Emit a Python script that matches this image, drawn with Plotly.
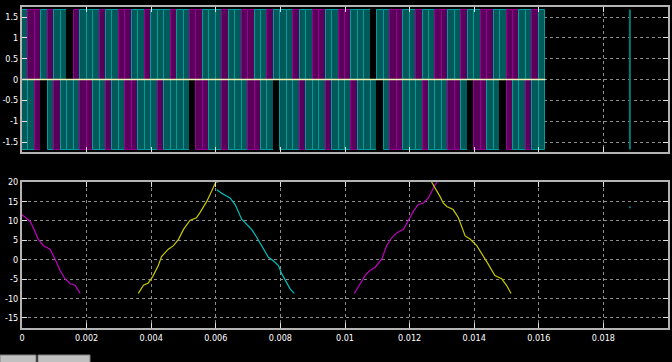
import plotly.graph_objects as go
from plotly.subplots import make_subplots

# ---------------- data ----------------
# Top scope: switching pulses, one colour code per 0.2 ms bin (T=teal, M=magenta, K=off)
pulse_bin = 0.0002
pulse_level = 1.68
upper_codes = list("TMMTMTTKMTTTMTTMM" "TTMTTTMTTMMTTTMT" "TMMTTMTTTMTTMMTT"
                   "MMTTTKTTMMTTMTTM" "MTTMTTMMTTMMTTMT")
lower_codes = list("TTMKTMTTTMMTTMTTM" "MTTTMTTTTKMMTTMT" "TTMMTTKTTTMTTTMT"
                   "TTMTTTKTMMTTTMTT" "TMMTKMMTTKMTTMTT")
late_pulse_t = [0.01882, 0.01882]
late_pulse_v = [-1.68, 1.68]

# Bottom scope: measured waveform segments
seg1_t = [0.0, 0.00025, 0.00035, 0.0005, 0.00066, 0.00087, 0.00102, 0.00118, 0.00133, 0.00149, 0.00164, 0.0018]
seg1_v = [11.6, 9.9, 8.2, 5.3, 3.6, 2.7, 0.2, -2.8, -4.9, -6.2, -6.6, -8.7]

seg2_t = [0.0036, 0.00376, 0.00391, 0.00405, 0.00422, 0.00432, 0.00453, 0.00469, 0.00485, 0.005,
          0.0052, 0.0054, 0.0055, 0.00572, 0.00587, 0.00598, 0.006, 0.00608]
seg2_v = [-8.7, -6.6, -6.0, -4.3, -1.5, 0.8, 2.7, 3.6, 5.3, 7.8, 10.1, 10.8, 12.0, 15.0, 17.6, 19.3, 20.0, 20.0]

seg3_t = [0.00603, 0.00618, 0.00644, 0.0066, 0.0068, 0.00696, 0.00711, 0.00727, 0.00747, 0.00763,
          0.00778, 0.00794, 0.00804, 0.0082, 0.0083, 0.00843]
seg3_v = [18.0, 17.1, 15.9, 14.2, 10.4, 9.1, 7.8, 5.7, 2.7, 0.6, -0.3, -1.5, -3.6, -5.8, -7.5, -8.7]

seg4_t = [0.01029, 0.01044, 0.01062, 0.01077, 0.01093, 0.01114, 0.01129, 0.01145, 0.0116, 0.01181,
          0.01196, 0.01212, 0.01227, 0.01243, 0.01258, 0.01268, 0.01279, 0.01285]
seg4_v = [-8.7, -6.6, -4.1, -2.8, -2.0, 0.2, 3.6, 5.7, 6.9, 7.8, 9.9, 12.5, 14.2, 14.6, 15.9, 17.6, 19.3, 20.0]

seg5_t = [0.01268, 0.01279, 0.01289, 0.01294, 0.01304, 0.01315, 0.01335, 0.01351, 0.01372, 0.01387,
          0.01408, 0.01428, 0.01443, 0.01464, 0.01485, 0.015, 0.01514]
seg5_v = [20.0, 18.5, 17.1, 16.3, 14.6, 13.7, 12.9, 10.8, 6.1, 5.3, 3.6, 1.0, -1.1, -4.1, -4.9, -6.6, -8.7]

dot_t = [0.01882]
dot_v = [13.5]

x_ticks = [0, 0.002, 0.004, 0.006, 0.008, 0.01, 0.012, 0.014, 0.016, 0.018, 0.02]
x_labels = ["0", "0.002", "0.004", "0.006", "0.008", "0.01", "0.012", "0.014", "0.016", "0.018", "0.02"]
top_y_ticks = [-1.5, -1, -0.5, 0, 0.5, 1, 1.5]
top_y_labels = ["-1.5", "-1", "-0.5", "0", "0.5", "1", "1.5"]
bot_y_ticks = [-15, -10, -5, 0, 5, 10, 15, 20]
bot_y_labels = ["-15", "-10", "-5", "0", "5", "10", "15", "20"]

# ---------------- styles ----------------
fill_map = {"T": "#005a5a", "M": "#5a005a", "K": "#000000"}
edge_map = {"T": "#009c9c", "M": "#960096", "K": "#000000"}
MAG, YEL, CYN = "#c000c0", "#c8c800", "#00c0c0"

fig = make_subplots(rows=2, cols=1, shared_xaxes=False, vertical_spacing=0.0)

centers = [pulse_bin * (i + 0.5) for i in range(len(upper_codes))]
fig.add_trace(go.Bar(x=centers, y=[pulse_level] * len(upper_codes), width=[pulse_bin] * len(upper_codes),
                     marker=dict(color=[fill_map[c] for c in upper_codes],
                                 line=dict(color=[edge_map[c] for c in upper_codes], width=1)),
                     showlegend=False, hoverinfo="skip"), row=1, col=1)
centers_l = [pulse_bin * (i + 0.5) for i in range(len(lower_codes))]
fig.add_trace(go.Bar(x=centers_l, y=[-pulse_level] * len(lower_codes), width=[pulse_bin] * len(lower_codes),
                     marker=dict(color=[fill_map[c] for c in lower_codes],
                                 line=dict(color=[edge_map[c] for c in lower_codes], width=1)),
                     showlegend=False, hoverinfo="skip"), row=1, col=1)
fig.add_trace(go.Scatter(x=[0, pulse_bin * len(upper_codes)], y=[0, 0], mode="lines",
                         line=dict(color="#f0f0b0", width=1.5), showlegend=False), row=1, col=1)
fig.add_trace(go.Scatter(x=late_pulse_t, y=late_pulse_v, mode="lines",
                         line=dict(color="#007a7a", width=2), showlegend=False), row=1, col=1)

for t, v, c in [(seg1_t, seg1_v, MAG), (seg2_t, seg2_v, YEL), (seg3_t, seg3_v, CYN),
                (seg4_t, seg4_v, MAG), (seg5_t, seg5_v, YEL)]:
    fig.add_trace(go.Scatter(x=t, y=v, mode="lines", line=dict(color=c, width=1.2),
                             showlegend=False), row=2, col=1)
fig.add_trace(go.Scatter(x=dot_t, y=dot_v, mode="markers", marker=dict(color="#008484", size=2),
                         showlegend=False), row=2, col=1)

H = 362
t_m, b_m = 7, 34
ph = H - t_m - b_m
top_dom = [1 - 145 / ph, 1]
bot_dom = [0, 146 / ph]

font = dict(family="Liberation Sans Narrow, DejaVu Sans Condensed, Arial Narrow, sans-serif",
            size=9, color="#ffffff")
axis_common = dict(showline=True, linecolor="#b4b4b4", linewidth=2, mirror="ticks",
                   ticks="inside", ticklen=5, tickcolor="#e0e0e0", tickwidth=1,
                   showgrid=True, gridcolor="#8c8c8c", griddash="dot", gridwidth=1,
                   zeroline=False, tickfont=font, automargin=False)

fig.update_xaxes(**axis_common, range=[0, 0.02], tickvals=x_ticks, ticktext=x_labels)
fig.update_xaxes(showticklabels=False, domain=[0, 1], row=1, col=1)
fig.update_xaxes(showticklabels=True, domain=[0, 1], row=2, col=1)
fig.update_yaxes(**axis_common)
fig.update_yaxes(range=[-1.74, 1.74], tickvals=top_y_ticks, ticktext=top_y_labels,
                 domain=top_dom, row=1, col=1)
fig.update_yaxes(range=[-17.6, 20], tickvals=bot_y_ticks, ticktext=bot_y_labels,
                 domain=bot_dom, row=2, col=1)

# status-bar boxes below the scope
fig.add_shape(type="rect", xref="paper", yref="paper", x0=-22 / 646, x1=14 / 646,
              y0=(328 - 363) / ph, y1=(328 - 355) / ph, fillcolor="#c0c0c0",
              line=dict(color="#808080", width=1), layer="above")
fig.add_shape(type="rect", xref="paper", yref="paper", x0=16 / 646, x1=68 / 646,
              y0=(328 - 363) / ph, y1=(328 - 355) / ph, fillcolor="#c0c0c0",
              line=dict(color="#808080", width=1), layer="above")

fig.update_layout(width=672, height=H, margin=dict(l=22, r=4, t=t_m, b=b_m, autoexpand=False),
                  paper_bgcolor="#000000", plot_bgcolor="#000000",
                  barmode="overlay", bargap=0, showlegend=False, font=font)

fig.write_html("out.html", config={"displayModeBar": False},
               post_script="document.body.style.margin='0px';document.body.style.background='#000';")
